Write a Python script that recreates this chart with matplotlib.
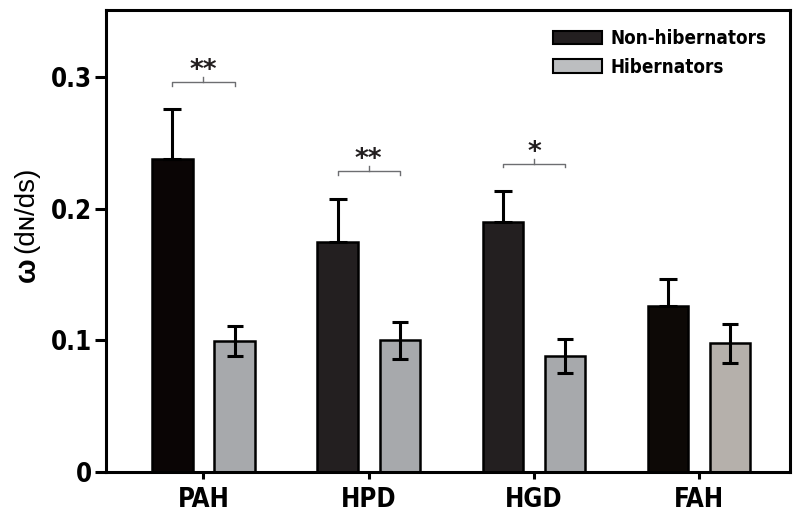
import matplotlib
matplotlib.use("Agg")
import matplotlib.pyplot as plt
from matplotlib import font_manager as fm
from matplotlib.patches import Patch
import numpy as np

categories = ["PAH", "HPD", "HGD", "FAH"]
non_hib = [0.2377, 0.1749, 0.1896, 0.1263]
non_hib_err = [0.0379, 0.0324, 0.0238, 0.0207]
hib = [0.0995, 0.1002, 0.0883, 0.0977]
hib_err = [0.0115, 0.0140, 0.0130, 0.0150]
non_hib_colors = ["#0a0505", "#231f20", "#231f20", "#0d0906"]
hib_colors = ["#a7a9ac", "#a7a9ac", "#a7a9ac", "#b5b0ab"]
sig_labels = ["**", "**", "*", None]
sig_heights = [0.296, 0.2285, 0.234, None]
yticks = [0, 0.1, 0.2, 0.3]
ytick_labels = ["0", "0.1", "0.2", "0.3"]

# pick a condensed bold font if one is installed
cond_path = None
prefs = ["LiberationSansNarrow-Bold", "DejaVuSansCondensed-Bold", "RobotoCondensed-Bold",
         "OpenSans_Condensed-Bold", "OpenSansCondensed-Bold"]
files = [f.fname for f in fm.fontManager.ttflist]
for p in prefs:
    hit = [f for f in files if p.lower() in f.lower().replace(" ", "")]
    if hit:
        cond_path = hit[0]
        break
if cond_path:
    bold_fp = lambda size: fm.FontProperties(fname=cond_path, size=size)
else:
    bold_fp = lambda size: fm.FontProperties(family="Liberation Sans", weight="bold", size=size)

plt.rcParams['font.family'] = ['Liberation Sans', 'DejaVu Sans']

fig = plt.figure(figsize=(8, 5.19), dpi=100)
ax = fig.add_axes([0.1325, 0.0906, 0.855, 0.8901])

x = np.arange(len(categories))
off = 0.188
w = 0.245
ax.bar(x - off, non_hib, w, color=non_hib_colors, edgecolor="black", linewidth=1.8, zorder=2)
ax.bar(x + off, hib, w, color=hib_colors, edgecolor="black", linewidth=1.8, zorder=2)
ax.errorbar(x - off, non_hib, yerr=[np.zeros(4), non_hib_err], fmt="none", ecolor="black",
            elinewidth=2.2, capsize=6.5, capthick=2.2, zorder=3)
ax.errorbar(x + off, hib, yerr=hib_err, fmt="none", ecolor="black",
            elinewidth=2.2, capsize=6, capthick=2.2, zorder=3)

for i, (lab, h) in enumerate(zip(sig_labels, sig_heights)):
    if lab is None:
        continue
    x0, x1 = i - off, i + off
    ax.plot([x0, x0, x1, x1], [h - 0.0025, h, h, h - 0.0025], color="#6d6e71", lw=1.0, zorder=3)
    ax.plot([i, i], [h, h + 0.004], color="#6d6e71", lw=1.0, zorder=3)
    ax.text(i, h - 0.0015, lab, ha="center", va="bottom", fontsize=19, fontweight="bold",
            color="#231f20", family=['DejaVu Sans'])

ax.set_xlim(-0.59, 3.55)
ax.set_ylim(0, 0.351)
ax.set_xticks(x)
ax.set_xticklabels(categories)
ax.set_yticks(yticks)
ax.set_yticklabels(ytick_labels)
for lab in ax.get_xticklabels() + ax.get_yticklabels():
    lab.set_fontproperties(bold_fp(18.5))
for s in ax.spines.values():
    s.set_linewidth(2.2)
ax.tick_params(axis="y", length=8, width=2.2, pad=2)
ax.tick_params(axis="x", length=5, width=2.2, pad=6)

handles = [Patch(facecolor="#231f20", edgecolor="black", linewidth=1.5, label="Non-hibernators"),
           Patch(facecolor="#bcbec0", edgecolor="black", linewidth=1.5, label="Hibernators")]
leg = ax.legend(handles=handles, loc="upper right", bbox_to_anchor=(0.99, 0.995), frameon=False,
                prop=bold_fp(13.5), handlelength=2.6, handleheight=0.7,
                handletextpad=0.45, labelspacing=0.5)

# y label
fig.text(0.034, 0.48, "ω", rotation=90, ha="center", va="center", fontsize=21, fontweight="bold",
         family=["Liberation Sans", "DejaVu Sans"])
fig.text(0.033, 0.595, "(dɴ/ds)", rotation=90, ha="center", va="center", fontsize=20,
         family=["Liberation Sans", "DejaVu Sans"])

fig.savefig("out.png", dpi=100)
